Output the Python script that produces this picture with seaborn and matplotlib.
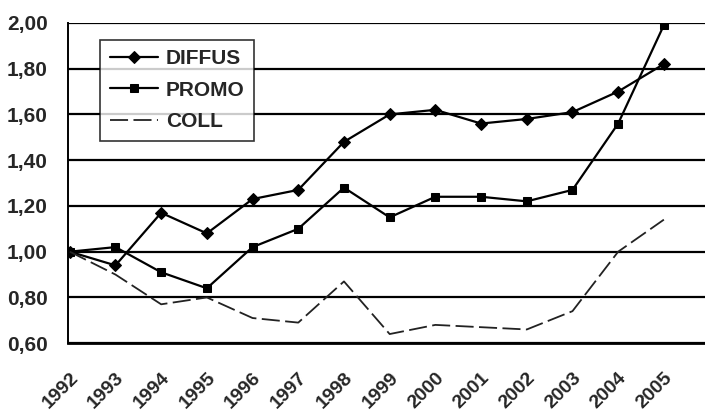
import matplotlib
matplotlib.use("Agg")
import matplotlib.pyplot as plt
import seaborn as sns
import pandas as pd
from matplotlib.ticker import FuncFormatter

years = [1992, 1993, 1994, 1995, 1996, 1997, 1998, 1999, 2000, 2001, 2002, 2003, 2004, 2005]
diffus = [1.00, 0.94, 1.17, 1.08, 1.23, 1.27, 1.48, 1.60, 1.62, 1.56, 1.58, 1.61, 1.70, 1.82]
promo = [1.00, 1.02, 0.91, 0.84, 1.02, 1.10, 1.28, 1.15, 1.24, 1.24, 1.22, 1.27, 1.56, 1.99]
coll = [1.00, 0.90, 0.77, 0.80, 0.71, 0.69, 0.87, 0.64, 0.68, 0.67, 0.66, 0.74, 1.00, 1.14]

df = pd.DataFrame({"pos": range(len(years)), "DIFFUS": diffus, "PROMO": promo, "COLL": coll})

sns.set_style("white")
plt.rcParams["font.family"] = ["Liberation Sans", "DejaVu Sans"]

fig = plt.figure(figsize=(7.05, 4.16), dpi=100)
ax = fig.add_axes([0.097, 0.175, 0.903, 0.77])

sns.lineplot(data=df, x="pos", y="DIFFUS", ax=ax, color="black", lw=1.6,
             marker="D", markersize=6, markeredgecolor="black", label="DIFFUS")
sns.lineplot(data=df, x="pos", y="PROMO", ax=ax, color="black", lw=1.6,
             marker="s", markersize=6, markeredgecolor="black", label="PROMO")
sns.lineplot(data=df, x="pos", y="COLL", ax=ax, color="#222222", lw=1.3,
             label="COLL")
ax.lines[-1].set_dashes((10, 3))

ax.set_ylim(0.60, 2.00)
ax.set_xlim(-0.03, 13.9)
ax.set_yticks([0.6, 0.8, 1.0, 1.2, 1.4, 1.6, 1.8, 2.0])
ax.yaxis.set_major_formatter(FuncFormatter(lambda v, p: f"{v:.2f}".replace(".", ",")))
ax.set_xticks(range(len(years)))
ax.set_xticklabels([str(y) for y in years], rotation=45, ha="right", rotation_mode="anchor")
ax.set_xlabel("")
ax.set_ylabel("")
ax.grid(axis="y", color="black", lw=1.6)
ax.set_axisbelow(True)
for lab in ax.get_xticklabels():
    lab.set_fontweight("bold")
    lab.set_fontsize(14)
for lab in ax.get_yticklabels():
    lab.set_fontweight("bold")
    lab.set_fontsize(15)
ax.tick_params(axis="x", length=3, pad=16)
ax.tick_params(axis="y", length=4, pad=11)
for s in ["top", "right"]:
    ax.spines[s].set_visible(False)
ax.spines["left"].set_color("black")
ax.spines["bottom"].set_color("black")
ax.spines["left"].set_linewidth(1.4)
ax.spines["bottom"].set_linewidth(2.0)

leg = ax.legend(loc="upper left", bbox_to_anchor=(0.05, 0.947), frameon=True, fancybox=False,
                edgecolor="black", handlelength=2.3, handletextpad=0.4, borderpad=0.45,
                labelspacing=0.6, borderaxespad=0,
                prop={"weight": "bold", "size": 15})
leg.get_frame().set_linewidth(1.2)

plt.savefig("out.png", dpi=100)
